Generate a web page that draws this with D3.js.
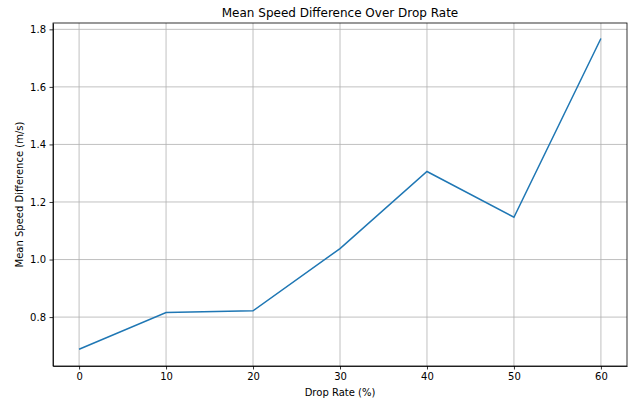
<!DOCTYPE html>
<html lang="en">
<head>
    <meta charset="UTF-8">
    <title>Mean Speed Difference Over Drop Rate</title>
    <script src="https://d3js.org/d3.v7.min.js"></script>
    <style>
        body {
            margin: 0;
            padding: 0;
            background-color: #ffffff;
            font-family: 'DejaVu Sans', sans-serif;
        }
        .grid line {
            stroke: #b0b0b0;
            stroke-width: 0.8;
        }
        .axis text {
            font-size: 10px;
            fill: #000;
            font-family: 'DejaVu Sans', sans-serif;
        }
        .axis line, .axis path {
            stroke: #000;
            stroke-width: 0.8;
        }
    </style>
</head>
<body>
<svg id="chart" width="632" height="402"></svg>

<script>
    const dropRates = [0, 10, 20, 30, 40, 50, 60];
    const speedDiff = [0.688, 0.816, 0.822, 1.038, 1.306, 1.147, 1.768];
    const xTicks = [0, 10, 20, 30, 40, 50, 60];
    const yTicks = [0.8, 1.0, 1.2, 1.4, 1.6, 1.8];

    const svg = d3.select("#chart");
    const margin = {top: 23, right: 5, bottom: 36, left: 53};
    const width = 632 - margin.left - margin.right;
    const height = 402 - margin.top - margin.bottom;

    const x = d3.scaleLinear().domain([-3, 63]).range([0, width]);
    const y = d3.scaleLinear().domain([0.63, 1.822]).range([height, 0]);

    const g = svg.append("g").attr("transform", `translate(${margin.left},${margin.top})`);

    // grid
    g.append("g").attr("class", "grid")
        .selectAll("line").data(xTicks).enter().append("line")
        .attr("x1", d => x(d)).attr("x2", d => x(d))
        .attr("y1", 0).attr("y2", height);
    g.append("g").attr("class", "grid")
        .selectAll("line").data(yTicks).enter().append("line")
        .attr("x1", 0).attr("x2", width)
        .attr("y1", d => y(d)).attr("y2", d => y(d));

    // line
    const line = d3.line().x((d, i) => x(dropRates[i])).y(d => y(d));
    g.append("path")
        .datum(speedDiff)
        .attr("fill", "none")
        .attr("stroke", "#1f77b4")
        .attr("stroke-width", 1.5)
        .attr("d", line);

    // axes
    g.append("g").attr("class", "axis")
        .attr("transform", `translate(0,${height})`)
        .call(d3.axisBottom(x).tickValues(xTicks).tickSize(3.5).tickPadding(3.5).tickSizeOuter(0));
    g.append("g").attr("class", "axis")
        .call(d3.axisLeft(y).tickValues(yTicks).tickFormat(d3.format(".1f")).tickSize(3.5).tickPadding(3.5).tickSizeOuter(0));

    // frame
    g.append("rect")
        .attr("width", width).attr("height", height)
        .attr("fill", "none").attr("stroke", "#000").attr("stroke-width", 0.8);

    // title and labels
    svg.append("text")
        .attr("x", margin.left + width / 2).attr("y", 17)
        .attr("text-anchor", "middle")
        .style("font-size", "12px")
        .text("Mean Speed Difference Over Drop Rate");
    svg.append("text")
        .attr("x", margin.left + width / 2).attr("y", 396)
        .attr("text-anchor", "middle")
        .style("font-size", "10px")
        .text("Drop Rate (%)");
    svg.append("text")
        .attr("transform", `translate(23,${margin.top + height / 2}) rotate(-90)`)
        .attr("text-anchor", "middle")
        .style("font-size", "10px")
        .text("Mean Speed Difference (m/s)");
</script>
</body>
</html>
